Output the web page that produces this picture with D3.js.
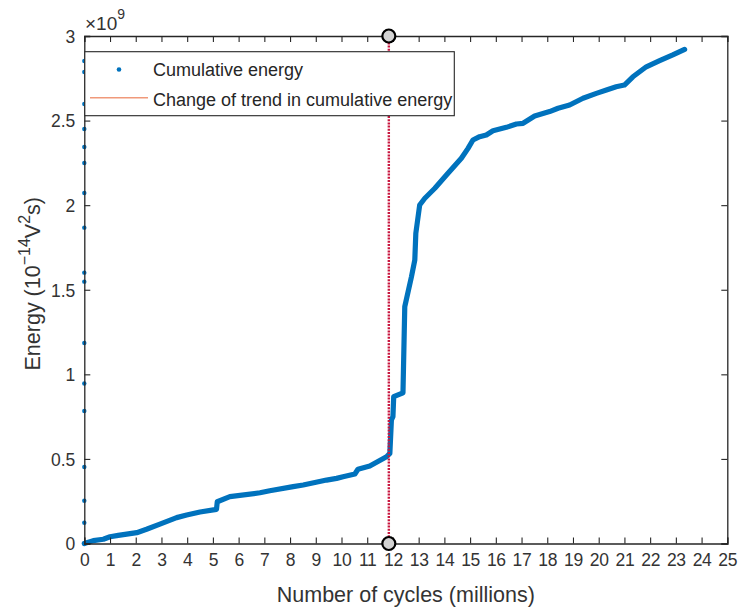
<!DOCTYPE html>
<html>
<head>
<meta charset="utf-8">
<script src="https://cdn.jsdelivr.net/npm/d3@7"></script>
<style>
  body { margin: 0; background: #fff; }
  svg { display: block; font-family: Arial, "Liberation Sans", Helvetica, sans-serif; }
</style>
</head>
<body>
<svg id="chart" width="738" height="608"></svg>
<script>
// ---- data (energy in units of 1e9 · 10^-14 V^2 s, cycles in millions) ----
const cycles = [0, 0.35, 0.74, 1.0, 1.32, 2.04, 2.42, 2.94, 3.59, 3.98, 4.50, 5.14, 5.17, 5.66, 6.83, 7.21, 8.12, 8.51, 9.42, 9.81, 10.06, 10.52, 10.64, 11.10, 11.75, 11.88, 11.94, 12.00, 12.03, 12.39, 12.46, 12.72, 12.85, 12.89, 13.04, 13.24, 13.63, 14.08, 14.66, 14.92, 15.11, 15.37, 15.63, 15.89, 16.41, 16.80, 17.06, 17.51, 18.09, 18.42, 18.87, 19.39, 19.91, 20.30, 20.68, 21.00, 21.33, 21.85, 22.37, 22.88, 23.34];
const energy = [0, 0.017, 0.025, 0.040, 0.048, 0.064, 0.084, 0.115, 0.153, 0.168, 0.186, 0.202, 0.247, 0.277, 0.300, 0.312, 0.336, 0.346, 0.375, 0.385, 0.395, 0.411, 0.439, 0.458, 0.513, 0.533, 0.730, 0.750, 0.868, 0.891, 1.400, 1.577, 1.676, 1.834, 2.001, 2.041, 2.100, 2.178, 2.277, 2.336, 2.385, 2.405, 2.415, 2.440, 2.460, 2.480, 2.484, 2.527, 2.553, 2.573, 2.592, 2.632, 2.661, 2.681, 2.700, 2.710, 2.759, 2.818, 2.854, 2.888, 2.921];
// stray samples recorded at ~0 cycles
const strayEnergy = [2.852, 2.787, 2.598, 2.450, 2.344, 2.249, 2.072, 1.867, 1.601, 1.548, 1.185, 0.946, 0.783, 0.452, 0.253, 0.123, 0];
const trendChangeCycle = 11.84;
const xTicks = d3.range(0, 26, 1);
const yTicks = [0, 0.5, 1, 1.5, 2, 2.5, 3];
const yTickLabels = ["0", "0.5", "1", "1.5", "2", "2.5", "3"];
const legendLabels = ["Cumulative energy", "Change of trend in cumulative energy"];

// ---- layout ----
const svg = d3.select("#chart");
const L = 84.3, R = 727.3, T = 36, B = 543.5;
const x = d3.scaleLinear().domain([0, 25]).range([L, R]);
const y = d3.scaleLinear().domain([0, 3]).range([B, T]);
const axisColor = "#262626";
const blue = "#0072BD";

// curve
const pts = cycles.map((c, i) => [c, energy[i]]);
svg.append("path")
  .datum(pts)
  .attr("d", d3.line().x(d => x(d[0])).y(d => y(d[1])))
  .attr("fill", "none")
  .attr("stroke", blue)
  .attr("stroke-width", 5.2)
  .attr("stroke-linejoin", "round")
  .attr("stroke-linecap", "round");

// stray dots
svg.append("g").selectAll("circle").data(strayEnergy).join("circle")
  .attr("cx", x(0)).attr("cy", d => y(d)).attr("r", 2.2).attr("fill", blue);

// axes
const gx = svg.append("g").attr("transform", `translate(0,${B})`)
  .call(d3.axisBottom(x).tickValues(xTicks).tickSize(-6).tickPadding(10).tickFormat(d3.format("d")));
const gxTop = svg.append("g").attr("transform", `translate(0,${T})`)
  .call(d3.axisTop(x).tickValues(xTicks).tickSize(-6).tickFormat(""));
const gy = svg.append("g").attr("transform", `translate(${L},0)`)
  .call(d3.axisLeft(y).tickValues(yTicks).tickSize(-6).tickPadding(9).tickFormat((d, i) => yTickLabels[i]));
const gyR = svg.append("g").attr("transform", `translate(${R},0)`)
  .call(d3.axisRight(y).tickValues(yTicks).tickSize(-6).tickFormat(""));
[gx, gxTop, gy, gyR].forEach(g => {
  g.select(".domain").attr("stroke", axisColor).attr("stroke-width", 1.3);
  g.selectAll(".tick line").attr("stroke", axisColor).attr("stroke-width", 1.1);
  g.selectAll(".tick text").attr("fill", "#333").attr("font-size", 17.5)
    .attr("font-family", "Arial, 'Liberation Sans', sans-serif");
});
gx.selectAll(".tick text").attr("dy", "0.71em").attr("letter-spacing", -0.3);
gy.selectAll(".tick text").attr("dy", "0.36em");

// exponent label
const ex = svg.append("text").attr("x", 85).attr("y", 30).attr("fill", "#333").attr("font-size", 19);
ex.append("tspan").text("×10");
ex.append("tspan").attr("font-size", 14).attr("dy", -11).text("9");

// axis labels
svg.append("text").attr("x", (L + R) / 2).attr("y", 602).attr("text-anchor", "middle")
  .attr("fill", "#333").attr("font-size", 21.5).text("Number of cycles (millions)");
const yl = svg.append("text").attr("transform", `translate(40,${(T + B) / 2 - 6}) rotate(-90)`)
  .attr("text-anchor", "middle").attr("fill", "#333").attr("font-size", 21.5);
yl.append("tspan").text("Energy (10");
yl.append("tspan").attr("font-size", 16).attr("dy", -10).text("−14");
yl.append("tspan").attr("dy", 10).text("V");
yl.append("tspan").attr("font-size", 16).attr("dy", -10).text("2");
yl.append("tspan").attr("dy", 10).text("s)");

// vertical trend-change line
svg.append("line")
  .attr("x1", x(trendChangeCycle)).attr("x2", x(trendChangeCycle))
  .attr("y1", y(3)).attr("y2", y(0))
  .attr("stroke", "#c8173f").attr("stroke-width", 2.4).attr("stroke-dasharray", "2,1.2");
svg.append("g").selectAll("circle").data([0, 3]).join("circle")
  .attr("cx", x(trendChangeCycle)).attr("cy", d => y(d)).attr("r", 6.5)
  .attr("fill", "#d3d3d3").attr("stroke", "#000").attr("stroke-width", 2.2);

// legend
const lg = svg.append("g");
lg.append("rect").attr("x", 84.8).attr("y", 51.7).attr("width", 369.5).attr("height", 64)
  .attr("fill", "#fff").attr("stroke", axisColor).attr("stroke-width", 1.1);
lg.append("circle").attr("cx", 119).attr("cy", 69.5).attr("r", 2.3).attr("fill", blue);
lg.append("line").attr("x1", 90).attr("x2", 148).attr("y1", 97.7).attr("y2", 97.7)
  .attr("stroke", "#f0997a").attr("stroke-width", 1.6);
legendLabels.forEach((t, i) => {
  lg.append("text").attr("x", 153).attr("y", 76 + i * 29.5).attr("fill", "#262626")
    .attr("font-size", 18).text(t);
});
</script>
</body>
</html>
